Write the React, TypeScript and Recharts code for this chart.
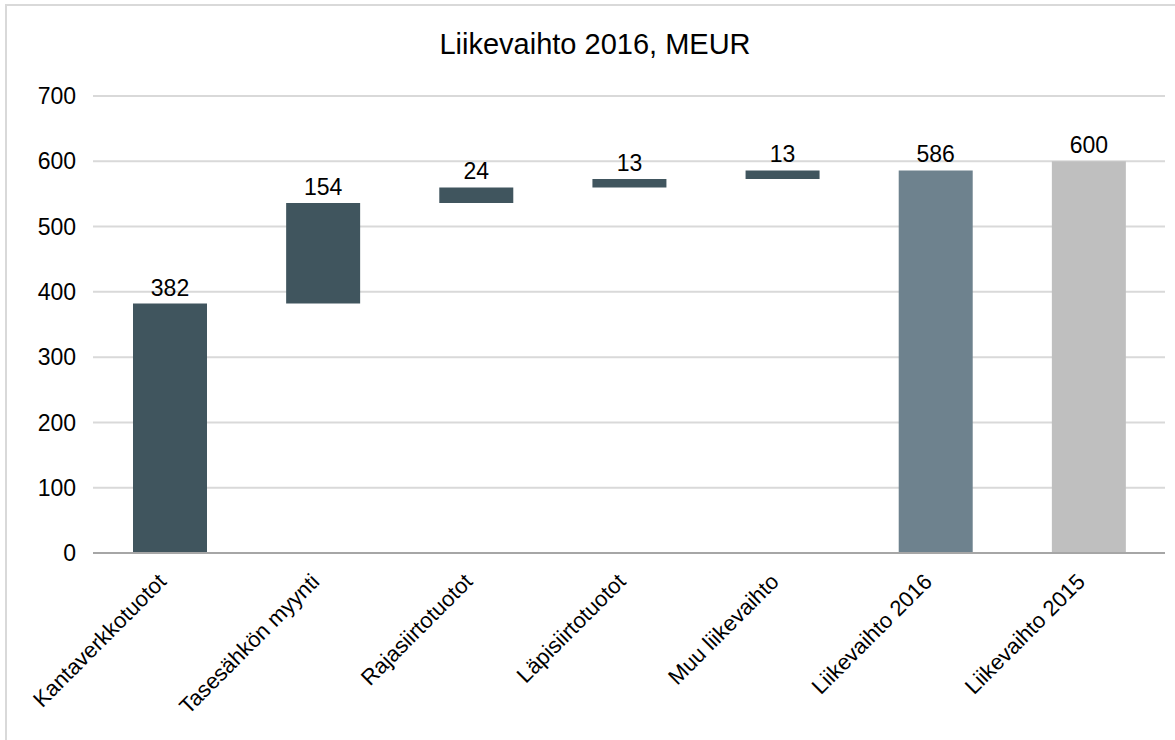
import React from 'react';
import { BarChart, Bar, XAxis, YAxis, CartesianGrid, Cell, LabelList } from 'recharts';

const categories = [
  'Kantaverkkotuotot',
  'Tasesähkön myynti',
  'Rajasiirtotuotot',
  'Läpisiirtotuotot',
  'Muu liikevaihto',
  'Liikevaihto 2016',
  'Liikevaihto 2015',
];
const values = [382, 154, 24, 13, 13, 586, 600];
const isTotal = [false, false, false, false, false, true, true];
const yTicks = [0, 100, 200, 300, 400, 500, 600, 700];
const title = 'Liikevaihto 2016, MEUR';

const barColors = ['#40555E', '#40555E', '#40555E', '#40555E', '#40555E', '#6E828E', '#BFBFBF'];

let running = 0;
const data = categories.map((name, i) => {
  const base = isTotal[i] ? 0 : running;
  if (!isTotal[i]) running += values[i];
  return { name, base, value: values[i] };
});

const FONT = 'Liberation Sans, Arial, sans-serif';

const XTick = (props: any) => {
  const { x, payload } = props;
  return (
    <g transform={`translate(${x - 2},${583})`}>
      <text
        transform="rotate(-45)"
        textAnchor="end"
        fontSize={22}
        fontFamily={FONT}
        fill="#000"
      >
        {payload.value}
      </text>
    </g>
  );
};

export default function App() {
  return (
    <div
      style={{
        position: 'absolute',
        left: 0,
        top: 0,
        width: 1175,
        height: 740,
        background: '#fff',
        overflow: 'hidden',
      }}
    >
      <div
        style={{
          position: 'absolute',
          left: 5,
          top: 4,
          width: 1300,
          height: 900,
          borderLeft: '2px solid #D9D9D9',
          borderTop: '2px solid #D9D9D9',
        }}
      />
      <div
        style={{
          position: 'absolute',
          left: 0,
          top: 30,
          width: 1190,
          textAlign: 'center',
          fontFamily: FONT,
          fontSize: 29,
          lineHeight: '29px',
          color: '#000',
        }}
      >
        {title}
      </div>
      <div style={{ position: 'absolute', left: 0, top: 0 }}>
        <BarChart
          width={1175}
          height={740}
          data={data}
          margin={{ top: 96, right: 10, bottom: 0, left: 0 }}
          barSize={74}
        >
          <CartesianGrid vertical={false} stroke="#D9D9D9" strokeWidth={2} />
          <XAxis
            dataKey="name"
            height={187}
            interval={0}
            tickLine={false}
            axisLine={{ stroke: '#A6A6A6', strokeWidth: 2 }}
            tick={<XTick />}
          />
          <YAxis
            width={93}
            domain={[0, 700]}
            ticks={yTicks}
            interval={0}
            tickLine={false}
            axisLine={false}
            tickMargin={11}
            tick={{ fontSize: 23, fontFamily: FONT, fill: '#000' }}
          />
          <Bar dataKey="base" stackId="w" fill="transparent" isAnimationActive={false} />
          <Bar dataKey="value" stackId="w" isAnimationActive={false}>
            {data.map((d, i) => (
              <Cell key={d.name} fill={barColors[i]} />
            ))}
            <LabelList
              dataKey="value"
              position="top"
              offset={8}
              fontSize={23}
              fontFamily={FONT}
              fill="#000"
            />
          </Bar>
        </BarChart>
      </div>
    </div>
  );
}
